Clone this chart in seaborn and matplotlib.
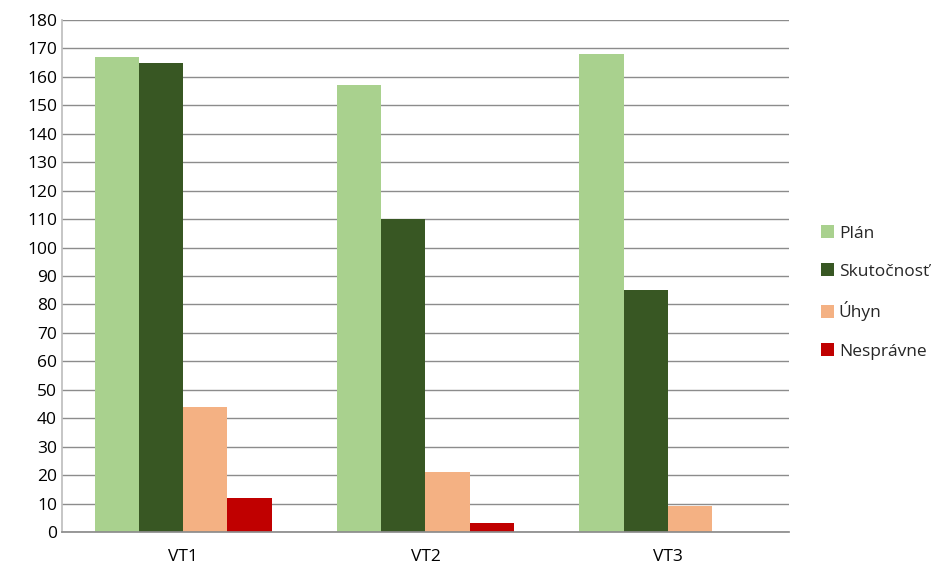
import matplotlib
matplotlib.use("Agg")
import matplotlib.pyplot as plt
import seaborn as sns
import pandas as pd

categories = ["VT1", "VT2", "VT3"]
series = ["Plán", "Skutočnosť", "Úhyn", "Nesprávne"]
plan = [167, 157, 168]
skutocnost = [165, 110, 85]
uhyn = [44, 21, 9]
nespravne = [12, 3, 0]
colors = ["#A9D18E", "#385723", "#F4B183", "#C00000"]

rows = []
for name, vals in zip(series, [plan, skutocnost, uhyn, nespravne]):
    for cat, v in zip(categories, vals):
        rows.append({"kat": cat, "seria": name, "hodnota": v})
df = pd.DataFrame(rows)

sns.set_theme(style="white")
plt.rcParams["font.family"] = ["Open Sans", "DejaVu Sans"]

fig = plt.figure(figsize=(9.43, 5.68), dpi=100)
ax = fig.add_axes([0.0657, 0.0634, 0.7710, 0.9014])

sns.barplot(data=df, x="kat", y="hodnota", hue="seria", palette=colors,
            width=0.73, gap=0, saturation=1, ax=ax, linewidth=0)

ax.set_ylim(0, 180)
ax.set_yticks(range(0, 181, 10))
ax.yaxis.grid(True, color="#8C8C8C", linewidth=1)
ax.set_axisbelow(True)
ax.set_xlabel("")
ax.set_ylabel("")
for s in ["top", "right"]:
    ax.spines[s].set_visible(False)
ax.spines["left"].set_color("#BFBFBF")
ax.spines["bottom"].set_color("#8C8C8C")
ax.tick_params(axis="both", length=0, labelsize=12.5, colors="#000000")
ax.tick_params(axis="x", pad=12)

handles, labels = ax.get_legend_handles_labels()
ax.legend(handles, labels, loc="center left", bbox_to_anchor=(1.022, 0.468),
          frameon=False, fontsize=12.5, labelspacing=1.25, handlelength=0.75,
          handleheight=0.75, handletextpad=0.3)

fig.savefig("out.png", dpi=100)
